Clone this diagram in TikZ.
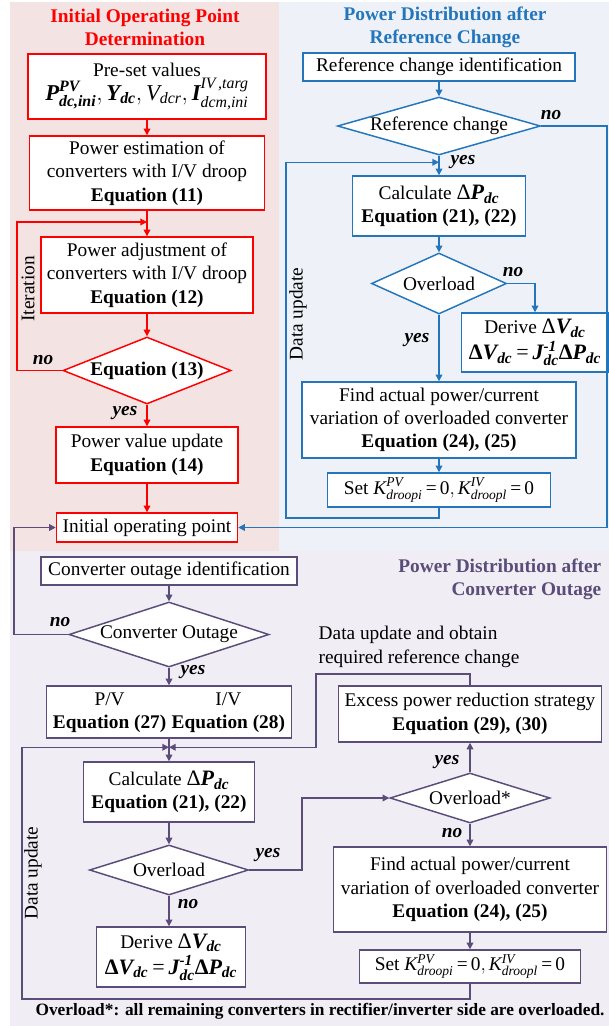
\documentclass[tikz,border=0pt]{standalone}
\usepackage{fontspec}
\usepackage{amsmath}
\setmainfont{Liberation Serif}
\usetikzlibrary{shapes.geometric, arrows.meta, calc}

\definecolor{redc}{RGB}{255,0,0}
\definecolor{bluec}{RGB}{36,118,188}
\definecolor{purc}{RGB}{92,76,122}
\definecolor{redbg}{RGB}{243,227,227}
\definecolor{bluebg}{RGB}{238,242,248}
\definecolor{purbg}{RGB}{240,237,244}

\newcommand{\bi}[1]{\text{\bfseries\itshape #1}}
\newcommand{\ti}[1]{\text{\itshape #1}}
\newcommand{\tb}[1]{\text{\bfseries #1}}
\newcommand{\tr}[1]{\text{#1}}
\newcommand{\mathbig}{\fontsize{16.5}{18}\selectfont}

\tikzset{
  box/.style={rectangle, draw, fill=white, line width=1.1pt, align=center, inner sep=1pt,
              font=\fontsize{14.5}{17.5}\selectfont},
  redbox/.style={box, draw=redc},
  bluebox/.style={box, draw=bluec},
  purbox/.style={box, draw=purc},
  dec/.style={diamond, draw, fill=white, line width=1.1pt, inner sep=0pt,
              font=\fontsize{14.5}{17.5}\selectfont},
  reddec/.style={dec, draw=redc},
  bluedec/.style={dec, draw=bluec},
  purdec/.style={dec, draw=purc},
  redline/.style={draw=redc, line width=1pt},
  blueline/.style={draw=bluec, line width=1pt},
  purline/.style={draw=purc, line width=1pt},
  lbl/.style={font=\fontsize{14.5}{17}\selectfont\bfseries\itshape},
  side/.style={rotate=90, font=\fontsize{14.5}{17}\selectfont},
  title/.style={font=\fontsize{14.5}{17.5}\selectfont\bfseries, align=center}
}

\begin{document}
\begin{tikzpicture}[x=0.75pt, y=-0.75pt, >={Triangle[length=5pt,width=5pt]}]
\useasboundingbox (0,0) rectangle (609,1026);

% background areas
\fill[redbg] (10,2) rectangle (279,551);
\fill[bluebg] (279,2) rectangle (609,551);
\fill[purbg] (10,551) rectangle (609,1026);

% titles
\node[title, text=redc] (t1) at (145,27.5) {Initial Operating Point\\Determination};
\node[title, text=bluec] (t2) at (445,27) {Power Distribution after\\Reference Change};
\node[title, text=purc, align=right, anchor=east] (t3) at (606,579.5) {Power Distribution after\\Converter Outage};

% initial operating point
\node[redbox, minimum width=178.5pt, minimum height=48.75pt] (pre) at (147,86.5)
  {Pre-set values\\{\fontsize{17}{19}\selectfont$\bi{P}^{\bi{PV}}_{\bi{dc,ini}},\bi{Y}_{\bi{dc}},\ti{V}_{\ti{dcr}},\bi{I}^{\ti{IV\,,targ}}_{\ti{dcm,ini}}$}};
\node[redbox, minimum width=176.25pt, minimum height=55.5pt] (est) at (147,173)
  {Power estimation of\\converters with I/V droop\\\textbf{Equation (11)}};
\node[redbox, minimum width=159pt, minimum height=57pt] (adj) at (147,275)
  {Power adjustment of\\converters with I/V droop\\\textbf{Equation (12)}};
\node[reddec, minimum width=126pt, minimum height=50.25pt, aspect=2.5] (eq13) at (147,370.5)
  {\textbf{Equation (13)}};
\node[redbox, minimum width=136.5pt, minimum height=42pt] (upd) at (147,455)
  {Power value update\\\textbf{Equation (14)}};
\node[redbox, minimum width=135.75pt, minimum height=21.75pt] (init) at (147,527.5)
  {Initial operating point};

\coordinate (itr) at (17,222);
\draw[redline,->] (pre) -- (est);
\draw[redline,->] (est) -- (adj);
\draw[redline,->] (adj) -- (eq13);
\draw[redline,->] (eq13.west) -| (itr) -- (itr -| est.south);
\draw[redline,->] (eq13) -- (upd);
\draw[redline,->] (upd) -- (init);
\node[lbl] (no1) at (43,360) {no};
\node[lbl] (yes1) at (125,413) {yes};
\node[side] (iter) at (28,289) {Iteration};

% reference change
\node[bluebox, minimum width=204pt, minimum height=21pt] (refid) at (439,67)
  {Reference change identification};
\node[bluedec, minimum width=152.25pt, minimum height=43.5pt, aspect=3.5] (refch) at (439,126)
  {Reference change};
\node[bluebox, minimum width=129.75pt, minimum height=45pt] (calc) at (439,206)
  {Calculate {\mathbig$\tr{Δ}\bi{P}_{\bi{dc}}$}\\\textbf{Equation (21), (22)}};
\node[bluedec, minimum width=101.25pt, minimum height=45.75pt, aspect=2.2] (ovl) at (439,283.5)
  {Overload};
\node[bluebox, minimum width=110.25pt, minimum height=44.25pt, inner sep=0.5pt] (der) at (535,342.5)
  {Derive {\mathbig$\tr{Δ}\bi{V}_{\bi{dc}}$}\\[2pt]{\mathbig$\tb{Δ}\bi{V}_{\bi{dc}}\,\tr{=}\,\bi{J}^{\bi{-1}}_{\bi{dc}}\tb{Δ}\bi{P}_{\bi{dc}}$}};
\node[bluebox, minimum width=205.5pt, minimum height=57pt] (find) at (439,420)
  {Find actual power/current\\variation of overloaded converter\\\textbf{Equation (24), (25)}};
\node[bluebox, minimum width=167.25pt, minimum height=25.5pt] (setk) at (439,490)
  {Set $\ti{K}^{\ti{PV}}_{\ti{droopi}}\,\tr{=}\,\tr{0},\ti{K}^{\ti{IV}}_{\ti{droopl}}\,\tr{=}\,\tr{0}$};

\coordinate (rc) at (607,126);
\coordinate (du1) at (286,518);
\path (calc.north) ++(0,-13) coordinate (j1);
\draw[blueline,->] (refid) -- (refch);
\draw[blueline,->] (refch) -- (calc);
\draw[blueline,->] (refch.east) -- (rc) |- (init.east);
\draw[blueline,->] (calc) -- (ovl);
\draw[blueline,->] (ovl.east) -| (der.north);
\draw[blueline,->] (ovl) -- (find);
\draw[blueline,->] (find) -- (setk);
\draw[blueline,->] (setk.south) |- (du1) |- (j1);
\node[lbl] (no2) at (551,115) {no};
\node[lbl] (yes2) at (463,162) {yes};
\node[lbl] (no3) at (513,272) {no};
\node[lbl] (yes3) at (417,340) {yes};
\node[side] (upd1) at (298,314) {Data update};

% converter outage
\node[purbox, minimum width=192pt, minimum height=21pt] (coid) at (169,571)
  {Converter outage identification};
\node[purdec, minimum width=150pt, minimum height=48.75pt, aspect=3.1] (cout) at (169,634.5)
  {Converter Outage};
\node[purbox, minimum width=183.75pt, minimum height=39pt] (pviv) at (169,712)
  {\begin{tabular}{@{}c@{\hspace{4pt}}c@{}}P/V & I/V\\\textbf{Equation (27)} & \textbf{Equation (28)}\end{tabular}};
\node[purbox, minimum width=128.25pt, minimum height=45pt] (calc2) at (169,792)
  {Calculate {\mathbig$\tr{Δ}\bi{P}_{\bi{dc}}$}\\\textbf{Equation (21), (22)}};
\node[purdec, minimum width=119.25pt, minimum height=37.5pt, aspect=3.2] (ovl2) at (169,870)
  {Overload};
\node[purbox, minimum width=111.75pt, minimum height=45pt, inner sep=0.5pt] (der2) at (171,957)
  {Derive {\mathbig$\tr{Δ}\bi{V}_{\bi{dc}}$}\\[2pt]{\mathbig$\tb{Δ}\bi{V}_{\bi{dc}}\,\tr{=}\,\bi{J}^{\bi{-1}}_{\bi{dc}}\tb{Δ}\bi{P}_{\bi{dc}}$}};
\node[purbox, minimum width=197.25pt, minimum height=42pt] (exc) at (470,714)
  {Excess power reduction strategy\\\textbf{Equation (29), (30)}};
\node[purdec, minimum width=120pt, minimum height=37.5pt, aspect=3.2] (ovls) at (470,798)
  {Overload*};
\node[purbox, minimum width=204.75pt, minimum height=63.75pt] (find2) at (470,889.5)
  {Find actual power/current\\variation of overloaded converter\\\textbf{Equation (24), (25)}};
\node[purbox, minimum width=165.75pt, minimum height=24.75pt] (setk2) at (470,966.5)
  {Set $\ti{K}^{\ti{PV}}_{\ti{droopi}}\,\tr{=}\,\tr{0},\ti{K}^{\ti{IV}}_{\ti{droopl}}\,\tr{=}\,\tr{0}$};

\coordinate (lft) at (14,634.5);
\coordinate (du2) at (22,999);
\coordinate (exc1) at (316,674);
\coordinate (ov1) at (302,870);
\path (calc2.north) ++(0,-14) coordinate (j2);
\draw[purline,->] (coid) -- (cout);
\draw[purline,->] (cout.west) -- (lft) |- (init.west);
\draw[purline,->] (cout) -- (pviv);
\draw[purline,->] (pviv) -- (calc2);
\draw[purline,->] (calc2) -- (ovl2);
\draw[purline,->] (ovl2) -- (ovl2 |- der2.north);
\draw[purline,->] (ovl2.east) -- (ov1) |- (ovls.west);
\draw[purline,->] (ovls) -- (exc);
\draw[purline,->] (ovls) -- (find2);
\draw[purline,->] (find2) -- (setk2);
\draw[purline,->] (setk2.south) |- (du2) |- (j2);
\draw[purline,->] (exc.north) |- (exc1) |- (j2);
\node[lbl] (no4) at (60,622) {no};
\node[lbl] (yes4) at (193,672) {yes};
\node[lbl] (yes5) at (268,855) {yes};
\node[lbl] (no5) at (188,904) {no};
\node[lbl] (yes6) at (447,762) {yes};
\node[lbl] (no6) at (452,833) {no};
\node[side] (upd2) at (33,873) {Data update};
\node[anchor=west, align=left, font=\fontsize{14.5}{17.5}\selectfont] (dupd) at (314,647)
  {Data update and obtain\\required reference change};

\node[font=\fontsize{13}{15}\selectfont\bfseries] (note) at (320,1011)
  {Overload*: all remaining converters in rectifier/inverter side are overloaded.};
\end{tikzpicture}
\end{document}
